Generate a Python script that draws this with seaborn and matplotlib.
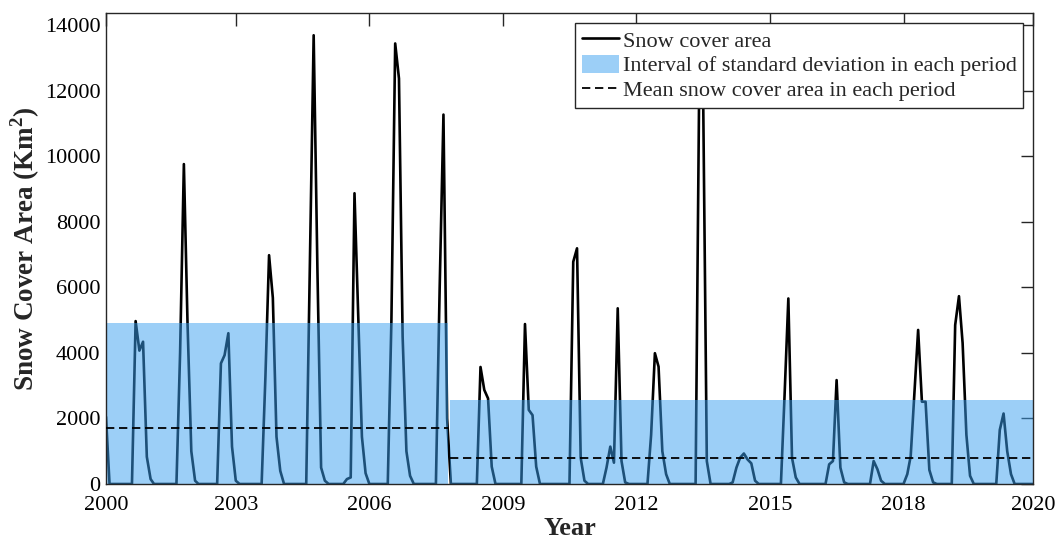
import numpy as np
import pandas as pd
import matplotlib
matplotlib.use("Agg")
import matplotlib.pyplot as plt
import seaborn as sns
from matplotlib.patches import Patch
from matplotlib.lines import Line2D

# Monthly snow cover area (km²), one list per calendar year (Feb 2000 – Dec 2020)
sca_2000 = [2050, 0, 0, 0, 0, 0, 0, 0, 4970, 4070, 4340]
sca_2001 = [830, 150, 0, 0, 0, 0, 0, 0, 0, 4000, 9760, 4900]
sca_2002 = [1000, 100, 0, 0, 0, 0, 0, 0, 3680, 3930, 4600, 1140]
sca_2003 = [100, 0, 0, 0, 0, 0, 0, 0, 3260, 6980, 5680, 1440]
sca_2004 = [400, 0, 0, 0, 0, 0, 0, 0, 7000, 13690, 6500, 500]
sca_2005 = [100, 0, 0, 0, 0, 0, 150, 200, 8870, 5200, 1440, 330]
sca_2006 = [0, 0, 0, 0, 0, 0, 5000, 13440, 12370, 4500, 1000, 250]
sca_2007 = [0, 0, 0, 0, 0, 0, 0, 6000, 11270, 2000, 0, 0]
sca_2008 = [0, 0, 0, 0, 0, 0, 3570, 2870, 2610, 530, 0, 0]
sca_2009 = [0, 0, 0, 0, 0, 0, 4880, 2260, 2100, 530, 0, 0]
sca_2010 = [0, 0, 0, 0, 0, 0, 0, 6780, 7190, 800, 100, 0]
sca_2011 = [0, 0, 0, 0, 500, 1140, 650, 5360, 700, 50, 0, 0]
sca_2012 = [0, 0, 0, 0, 1500, 3990, 3580, 1000, 300, 0, 0, 0]
sca_2013 = [0, 0, 0, 0, 0, 12800, 12200, 700, 0, 0, 0, 0]
sca_2014 = [0, 0, 50, 500, 800, 930, 750, 630, 100, 0, 0, 0]
sca_2015 = [0, 0, 0, 0, 2700, 5660, 800, 200, 0, 0, 0, 0]
sca_2016 = [0, 0, 0, 0, 600, 700, 3170, 500, 50, 0, 0, 0]
sca_2017 = [0, 0, 0, 0, 700, 450, 100, 0, 0, 0, 0, 0]
sca_2018 = [0, 300, 850, 2800, 4700, 2510, 2510, 430, 50, 0, 0, 0]
sca_2019 = [0, 0, 4850, 5730, 4300, 1500, 250, 0, 0, 0, 0, 0]
sca_2020 = [0, 0, 1650, 2150, 1000, 300, 0, 0, 0, 0, 0, 0]

# Two periods: start / end, mean and standard deviation of snow cover area
period_start = ["2000-02-01", "2007-10-24"]
period_end = ["2007-10-10", "2020-12-01"]
period_mean = [1700, 790]
period_std = [3200, 1760]

# Axis tick labels
tick_dates = ["2000-02-01", "2003-01-01", "2006-01-01", "2009-01-01",
              "2012-01-01", "2015-01-01", "2018-01-01", "2020-12-01"]
tick_labels = ["2000", "2003", "2006", "2009", "2012", "2015", "2018", "2020"]

sca = np.concatenate([sca_2000, sca_2001, sca_2002, sca_2003, sca_2004, sca_2005,
                      sca_2006, sca_2007, sca_2008, sca_2009, sca_2010, sca_2011,
                      sca_2012, sca_2013, sca_2014, sca_2015, sca_2016, sca_2017,
                      sca_2018, sca_2019, sca_2020])
dates = pd.date_range("2000-02-01", periods=len(sca), freq="MS")
df = pd.DataFrame({"date": dates, "sca": sca})

sns.set_theme(style="white")
plt.rcParams["font.family"] = ["Liberation Serif", "DejaVu Serif"]
plt.rcParams["mathtext.fontset"] = "custom"
plt.rcParams["mathtext.rm"] = "Liberation Serif"
plt.rcParams["mathtext.bf"] = "Liberation Serif:bold"

W, H = 1057, 542
fig = plt.figure(figsize=(W / 100, H / 100), dpi=100)
ax = fig.add_axes([106 / W, 1 - 484 / H, (1033.3 - 106) / W, (484 - 13.3) / H])

fill_color = "#3aa0f0"
dash = (0, (4.6, 2.6))

sns.lineplot(data=df, x="date", y="sca", color="black", linewidth=1.9,
             ax=ax, zorder=1, legend=False)

for s, e, m, sd in zip(period_start, period_end, period_mean, period_std):
    xs = [pd.Timestamp(s), pd.Timestamp(e)]
    ax.fill_between(xs, m - sd, m + sd, color=fill_color, alpha=0.5,
                    linewidth=0, zorder=2)
    ax.plot(xs, [m, m], color="black", linestyle=dash, linewidth=1.3, zorder=3)

ax.set_xlim(dates[0], dates[-1])
ax.set_ylim(0, 14360)
ax.set_yticks(np.arange(0, 14001, 2000))
ax.set_xticks([pd.Timestamp(d) for d in tick_dates])
ax.set_xticklabels(tick_labels)

ax.tick_params(direction="in", length=9, width=1, top=True, right=True,
               labelsize=16, colors="#262626", labelcolor="black")
ax.tick_params(axis="x", pad=9)
ax.tick_params(axis="y", pad=4)
for sp in ax.spines.values():
    sp.set_color("#262626")
    sp.set_linewidth(1)

ax.set_xlabel("Year", fontsize=19, fontweight="bold", labelpad=1)
ax.set_ylabel(r"Snow Cover Area (Km$^{\mathbf{2}}$)", fontsize=19.5,
              fontweight="bold", labelpad=2)

handles = [
    Line2D([], [], color="black", linewidth=1.9),
    Patch(facecolor=fill_color, alpha=0.5, edgecolor="none"),
    Line2D([], [], color="black", linestyle=dash, linewidth=1.3),
]
labels = ["Snow cover area",
          "Interval of standard deviation in each period",
          "Mean snow cover area in each period"]
leg = ax.legend(handles, labels, loc="upper right", fontsize=16,
                frameon=True, fancybox=False, framealpha=1,
                edgecolor="#262626", handlelength=1.7, handleheight=0.85,
                handletextpad=0.15, borderpad=0.3, labelspacing=0.15,
                borderaxespad=0.45)
leg.get_frame().set_linewidth(1)

fig.savefig("out.png", dpi=100)
